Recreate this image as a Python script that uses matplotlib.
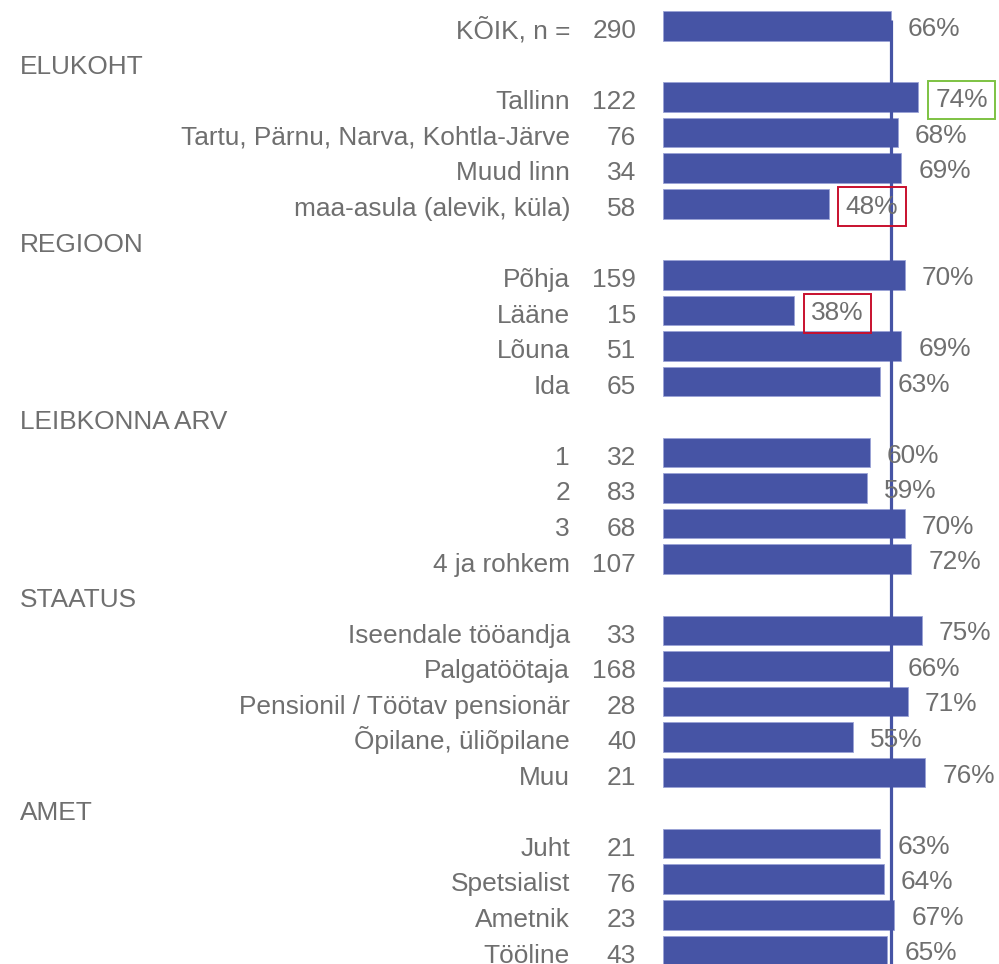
import matplotlib
matplotlib.use("Agg")
import matplotlib.pyplot as plt
from matplotlib.transforms import blended_transform_factory, offset_copy

plt.rcParams['font.family'] = ['Liberation Sans', 'DejaVu Sans']

labels = ["KÕIK, n =", "ELUKOHT", "Tallinn", "Tartu, Pärnu, Narva, Kohtla-Järve",
          "Muud linn", "maa-asula (alevik, küla)", "REGIOON", "Põhja", "Lääne",
          "Lõuna", "Ida", "LEIBKONNA ARV", "1", "2", "3", "4 ja rohkem", "STAATUS",
          "Iseendale tööandja", "Palgatöötaja", "Pensionil / Töötav pensionär",
          "Õpilane, üliõpilane", "Muu", "AMET", "Juht", "Spetsialist", "Ametnik", "Tööline"]
n_values = [290, None, 122, 76, 34, 58, None, 159, 15, 51, 65, None, 32, 83, 68, 107,
            None, 33, 168, 28, 40, 21, None, 21, 76, 23, 43]
pct_values = [66, None, 74, 68, 69, 48, None, 70, 38, 69, 63, None, 60, 59, 70, 72,
              None, 75, 66, 71, 55, 76, None, 63, 64, 67, 65]
highlight = {"Tallinn": "#7DC242", "maa-asula (alevik, küla)": "#C8102E", "Lääne": "#C8102E"}
total_value = 66

BAR = "#4654A5"
TXT = "#6F6F6F"
W, H = 999, 964
fs = 18.9

fig = plt.figure(figsize=(W / 100, H / 100), dpi=100)
row_px = 35.55
first_px = 26
px_per_pct = 3.45
left_px = 663
ax = fig.add_axes([left_px / W, 0, 1 - left_px / W, 1])
ax.set_xlim(0, (W - left_px) / px_per_pct)
ax.set_ylim((H - first_px) / row_px, -first_px / row_px)
ax.axis("off")

tr = blended_transform_factory(fig.transFigure, ax.transData)
# shift baseline below row centre (points; dpi=100 so 1px = 0.72pt)
tr_lab = offset_copy(tr, fig=fig, x=0, y=-12.3 * 0.72, units="points")

bottom = (H - first_px) / row_px + 1
for i, (lab, n, v) in enumerate(zip(labels, n_values, pct_values)):
    if v is None:
        ax.text(20 / W, i, lab, transform=tr_lab, ha="left", va="baseline",
                fontsize=fs, color=TXT, clip_on=False)
        continue
    ax.barh(i, v, height=0.83, color=BAR, edgecolor="#9AA3D6", linewidth=0.6, zorder=2)
    ax.text(570 / W, i, lab, transform=tr_lab, ha="right", va="baseline",
            fontsize=fs, color=TXT)
    ax.text(636 / W, i, str(n), transform=tr_lab, ha="right", va="baseline",
            fontsize=fs, color=TXT)
    kw = {}
    if lab in highlight:
        kw["bbox"] = dict(boxstyle="square,pad=0.28", fc="none",
                          ec=highlight[lab], lw=1.4)
    ax.annotate(f"{v}%", xy=(v, i), xytext=(12.3, -10 * 0.72), textcoords="offset points",
                ha="left", va="baseline", fontsize=fs, color=TXT, zorder=4,
                annotation_clip=False, **kw)

ax.plot([total_value, total_value], [-0.17, bottom], color=BAR, lw=2.3,
        zorder=3, solid_capstyle="butt", clip_on=False)

fig.savefig("out.png", dpi=100)
